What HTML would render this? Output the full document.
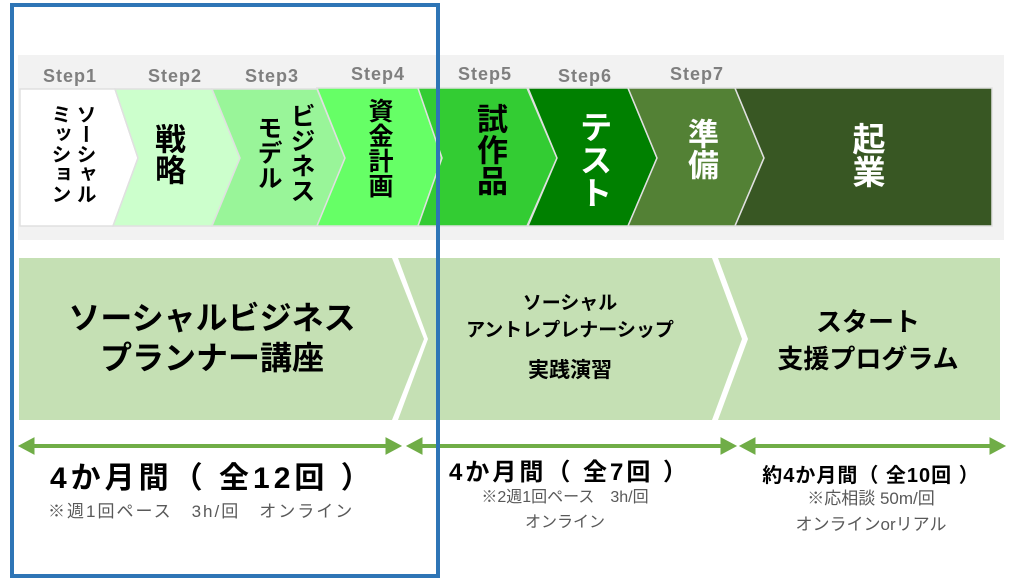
<!DOCTYPE html>
<html><head><meta charset="utf-8"><style>
body{margin:0;width:1024px;height:577px;background:#fff;position:relative;overflow:hidden;font-family:"Liberation Sans","Noto Sans CJK JP",sans-serif;}
.a{position:absolute;}
.v{position:absolute;writing-mode:vertical-rl;font-weight:bold;line-height:1;}
.c{position:absolute;text-align:center;font-weight:bold;white-space:nowrap;}
</style></head><body>
<svg class="a" style="left:0;top:0" width="1024" height="577">
<rect x="18" y="55" width="986" height="185" fill="#f2f2f2"/>
<g font-family="Liberation Sans, sans-serif" font-weight="bold" font-size="18" fill="#7f7f7f" text-anchor="middle" letter-spacing="1">
<text x="70" y="82">Step1</text><text x="175" y="82">Step2</text><text x="272" y="82">Step3</text><text x="378" y="80">Step4</text><text x="485" y="80">Step5</text><text x="585" y="82">Step6</text><text x="697" y="80">Step7</text></g>
<g stroke="#e0e0e0" stroke-width="1.5">
<polygon points="20,89 115,89 138,158 113,226 20,226" fill="#ffffff"/>
<polygon points="115,89 212,89 240,158 212,226 113,226 138,158" fill="#ccffcc"/>
<polygon points="212,89 317,89 345,158 317,226 212,226 240,158" fill="#99f599"/>
<polygon points="317,88 418,88 442,158 418,226 317,226 345,158" fill="#66ff66"/>
<polygon points="418,88 527,88 557,158 527,226 418,226 442,158" fill="#33cc33"/>
<polygon points="528,88 628,88 657,158 628,226 528,226 557,158" fill="#008000"/>
<polygon points="628,88 735,88 764,158 735,226 628,226 657,158" fill="#538135"/>
<polygon points="735,88 992,88 992,226 735,226 764,158" fill="#385723"/>
</g>
<polygon points="19,258 392,258 424,339 392,420 19,420" fill="#c5e0b4"/>
<polygon points="398,258 712,258 742,339 712,420 398,420 428,339" fill="#c5e0b4"/>
<polygon points="718,258 1000,258 1000,420 718,420 748,339" fill="#c5e0b4"/>
<g fill="#70ad47" stroke="#70ad47">
<line x1="30" y1="446" x2="390" y2="446" stroke-width="4"/><polygon points="19,446 34,438 34,454"/><polygon points="401,446 386,438 386,454"/>
<line x1="418" y1="446" x2="725" y2="446" stroke-width="4"/><polygon points="407,446 422,438 422,454"/><polygon points="736,446 721,438 721,454"/>
<line x1="752" y1="446" x2="994" y2="446" stroke-width="4"/><polygon points="740,446 755,438 755,454"/><polygon points="1005,446 990,438 990,454"/>
</g>
</svg>
<div class="v" style="left:74px;top:104px;font-size:20px;">ソーシャル</div>
<div class="v" style="left:49px;top:104px;font-size:20px;">ミッション</div>
<div class="v" style="left:152px;top:123px;font-size:31px;">戦略</div>
<div class="v" style="left:288px;top:103px;font-size:25px;">ビジネス</div>
<div class="v" style="left:255px;top:115px;font-size:25px;">モデル</div>
<div class="v" style="left:366px;top:98px;font-size:25px;">資金計画</div>
<div class="v" style="left:474px;top:103px;font-size:31px;">試作品</div>
<div class="v" style="left:577px;top:110px;font-size:33px;color:#fff;">テスト</div>
<div class="v" style="left:685px;top:118px;font-size:31px;color:#fff;">準備</div>
<div class="v" style="left:850px;top:122px;font-size:33px;color:#fff;">起業</div>
<div class="c" style="left:20px;width:384px;top:298px;font-size:32px;line-height:40px;">ソーシャルビジネス<br>プランナー講座</div>
<div class="c" style="left:420px;width:300px;top:290px;font-size:19px;line-height:27px;">ソーシャル<br>アントレプレナーシップ</div>
<div class="c" style="left:420px;width:300px;top:354px;font-size:21px;">実践演習</div>
<div class="c" style="left:748px;width:240px;top:304px;font-size:26px;line-height:37px;">スタート<br>支援プログラム</div>
<div class="a" style="left:50px;top:453px;font-size:30px;letter-spacing:4px;font-weight:bold;white-space:nowrap;">4か月間（ 全12回 ）</div>
<div class="a" style="left:48px;top:497px;font-size:17px;letter-spacing:2px;color:#595959;white-space:nowrap;">※週1回ペース　3h/回　オンライン</div>
<div class="a" style="left:449px;top:452px;font-size:24px;letter-spacing:3px;font-weight:bold;white-space:nowrap;">4か月間（ 全7回 ）</div>
<div class="c" style="left:440px;width:250px;top:485px;font-size:16px;line-height:25px;font-weight:normal;color:#595959;">※2週1回ペース　3h/回<br>オンライン</div>
<div class="c" style="left:740px;width:262px;top:459px;font-size:20px;letter-spacing:1px;">約4か月間（ 全10回 ）</div>
<div class="c" style="left:740px;width:262px;top:486px;font-size:17px;line-height:26px;font-weight:normal;color:#595959;">※応相談 50m/回<br>オンラインorリアル</div>
<div class="a" style="left:10px;top:3px;width:422px;height:567px;border:4px solid #2e75b6;"></div>
</body></html>
